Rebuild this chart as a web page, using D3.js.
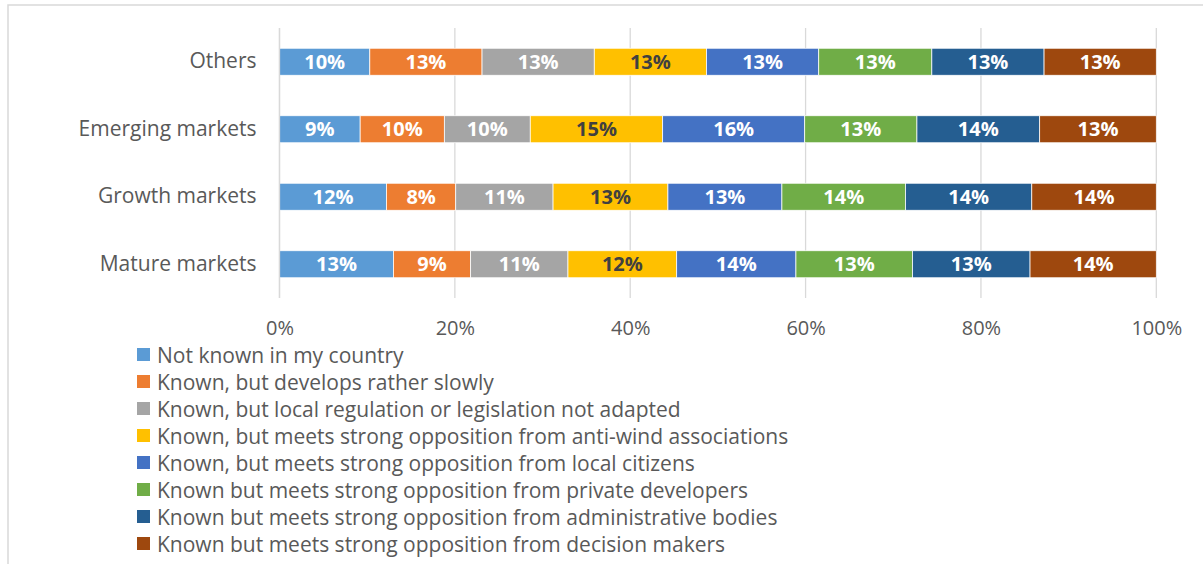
<!DOCTYPE html>
<html>
<head>
<meta charset="utf-8">
<script src="https://cdn.jsdelivr.net/npm/d3@7"></script>
<style>
  html, body { margin: 0; padding: 0; background: #fff; }
  svg { display: block; }
  text { font-family: "Open Sans", Lato, sans-serif; }
</style>
</head>
<body>
<div id="chart"></div>
<script>
// Market groups, top to bottom
const categories = ["Others", "Emerging markets", "Growth markets", "Mature markets"];

// Answer options (stack order, left to right)
const seriesNames = [
  "Not known in my country",
  "Known, but develops rather slowly",
  "Known, but local regulation or legislation not adapted",
  "Known, but meets strong opposition from anti-wind associations",
  "Known, but meets strong opposition from local citizens",
  "Known but meets strong opposition from private developers",
  "Known but meets strong opposition from administrative bodies",
  "Known but meets strong opposition from decision makers"
];

// Share of responses (%) per market group, in the series order above
const othersValues   = [10.3, 12.8, 12.8, 12.8, 12.8, 12.9, 12.8, 12.8];
const emergingValues = [9.2, 9.6, 9.8, 15.1, 16.2, 12.8, 14.0, 13.3];
const growthValues   = [12.2, 7.9, 11.1, 13.1, 13.0, 14.1, 14.4, 14.2];
const matureValues   = [13.0, 8.8, 11.1, 12.4, 13.6, 13.3, 13.4, 14.4];

const tickValues = [0, 0.2, 0.4, 0.6, 0.8, 1.0];

const colors = ["#5B9BD5", "#ED7D31", "#A5A5A5", "#FFC000", "#4472C4", "#70AD47", "#255E91", "#9E480E"];
const labelColors = ["#ffffff", "#ffffff", "#ffffff", "#404040", "#ffffff", "#ffffff", "#ffffff", "#ffffff"];

const valuesByCategory = {
  "Others": othersValues,
  "Emerging markets": emergingValues,
  "Growth markets": growthValues,
  "Mature markets": matureValues
};

// Row table for d3.stack
const rows = categories.map(c => {
  const r = { category: c };
  seriesNames.forEach((s, i) => { r[s] = valuesByCategory[c][i]; });
  return r;
});

const W = 1203, H = 564;
const svg = d3.select("#chart").append("svg").attr("width", W).attr("height", H);

// Outer chart frame
svg.append("rect")
  .attr("x", 8).attr("y", 5).attr("width", 1220).attr("height", 620)
  .attr("fill", "none").attr("stroke", "#d9d9d9").attr("stroke-width", 1.5);

const plot = { left: 279.5, right: 1156.3, top: 28, bottom: 298 };

const x = d3.scaleLinear().domain([0, 1]).range([plot.left, plot.right]);
const y = d3.scaleBand().domain(categories).range([plot.top, plot.bottom])
  .paddingInner(0.6).paddingOuter(0.3);

const stack = d3.stack().keys(seriesNames).offset(d3.stackOffsetExpand);
const stacked = stack(rows);

// Vertical gridlines
svg.append("g").selectAll("line")
  .data(tickValues)
  .join("line")
  .attr("x1", d => x(d)).attr("x2", d => x(d))
  .attr("y1", plot.top).attr("y2", plot.bottom)
  .attr("stroke", "#d9d9d9").attr("stroke-width", 1.3);

// Bottom axis labels
const xAxis = d3.axisBottom(x).tickValues(tickValues).tickFormat(d3.format(".0%")).tickSize(0).tickPadding(0);
const gx = svg.append("g").attr("transform", `translate(0,${plot.bottom})`).call(xAxis);
gx.select(".domain").remove();
gx.selectAll("text")
  .attr("y", 36.5).attr("dy", "0")
  .attr("fill", "#595959").style("font-size", "20px")
  .style("font-family", "'Open Sans', Lato, sans-serif");

// Category labels
const yAxis = d3.axisLeft(y).tickSize(0).tickPadding(0);
const gy = svg.append("g").attr("transform", `translate(${plot.left - 23},0)`).call(yAxis);
gy.select(".domain").remove();
gy.selectAll("text")
  .attr("fill", "#595959").style("font-size", "21px")
  .style("font-family", "'Open Sans', Lato, sans-serif");

// Stacked segments
const layers = svg.append("g").selectAll("g")
  .data(stacked)
  .join("g")
  .attr("fill", (d, i) => colors[i]);

layers.selectAll("rect")
  .data(d => d.map(p => ({ p, key: d.key })))
  .join("rect")
  .attr("x", d => x(d.p[0]))
  .attr("y", d => y(d.p.data.category))
  .attr("width", d => x(d.p[1]) - x(d.p[0]))
  .attr("height", y.bandwidth())
  .attr("stroke", "#ffffff").attr("stroke-width", 0.75);

// Value labels
svg.append("g").selectAll("g")
  .data(stacked)
  .join("g")
  .attr("fill", (d, i) => labelColors[i])
  .selectAll("text")
  .data(d => d.map(p => ({ p, key: d.key })))
  .join("text")
  .attr("x", d => (x(d.p[0]) + x(d.p[1])) / 2)
  .attr("y", d => y(d.p.data.category) + y.bandwidth() / 2)
  .attr("dy", "0.36em")
  .attr("text-anchor", "middle")
  .style("font-size", "20px").style("font-weight", "bold")
  .text(d => Math.round(d.p.data[d.key]) + "%");

// Axis line at 0%
svg.append("line")
  .attr("x1", x(0)).attr("x2", x(0)).attr("y1", plot.top).attr("y2", plot.bottom)
  .attr("stroke", "#d9d9d9").attr("stroke-width", 1.3);

// Legend
const legend = svg.append("g").selectAll("g")
  .data(seriesNames)
  .join("g")
  .attr("transform", (d, i) => `translate(137,${355.5 + i * 27})`);

legend.append("rect")
  .attr("x", 0).attr("y", -7.5).attr("width", 13).attr("height", 13)
  .attr("fill", (d, i) => colors[i]);

legend.append("text")
  .attr("x", 20).attr("dy", "0.36em")
  .attr("fill", "#595959").style("font-size", "21px")
  .text(d => d);
</script>
</body>
</html>
